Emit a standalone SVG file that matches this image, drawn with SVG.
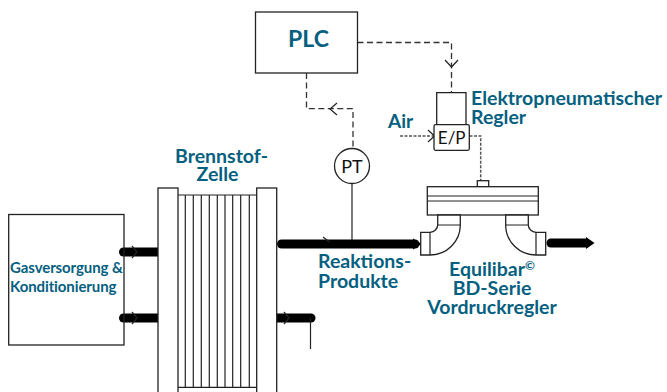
<svg xmlns="http://www.w3.org/2000/svg" width="667" height="392" viewBox="0 0 667 392">
<style>
.s{fill:#fff;stroke:#222;stroke-width:1.3}
.l{fill:none;stroke:#222;stroke-width:1.2}
.d{fill:none;stroke:#333;stroke-width:1.3;stroke-dasharray:6 3.5}
.g{fill:none;stroke:#555;stroke-width:1.5;stroke-dasharray:3 1.5}
.p{fill:none;stroke:#000;stroke-width:9;stroke-linecap:round}
.t{font-family:Lato,"Open Sans",sans-serif;font-weight:700;fill:#05607f}
.k{font-family:Lato,"Open Sans",sans-serif;fill:#111;text-anchor:middle}
</style>
<g id="connectors">
<path class="d" d="M357.500 42.500H451.500V92"/>
<path class="l" d="M445 60L451.500 67L458 60"/>
<path class="d" d="M306.500 73V108.700H353V148"/>
<path class="l" d="M337 103L330 109L337 115"/>
<path class="l" d="M352 184V240"/>
<path class="g" d="M400 136H434"/>
<path class="l" d="M428 130L434.500 136L428 142"/>
<path class="g" d="M469.500 136H480.700V181"/>
<path class="p" d="M281.500 244H415"/>
<path d="M413 238.500L421.500 244L413 249.500Z" fill="#000"/>
<path class="l" d="M323 237L329.500 242"/>
<path class="p" d="M123.500 252H158.500"/>
<path class="l" d="M132 246L137 252L132 258"/>
<path class="p" d="M123.500 318H158.500"/>
<path class="l" d="M132 312L137 318L132 324"/>
<path class="p" d="M276.500 318H311"/>
<path class="l" d="M284 312L289 318L284 324"/>
<path class="l" d="M310.500 318V349"/>
<path class="p" d="M551 243H586"/>
<path d="M586 237L594.500 243L586 249Z" fill="#000"/>
</g>
<g id="plc"><rect class="s" x="255.500" y="12" width="102" height="61"/><text class="t" x="308.500" y="47" font-size="23" text-anchor="middle">PLC</text></g>
<g id="pt"><circle class="s" cx="352" cy="166" r="17.500"/><text class="k" x="352" y="172.500" font-size="18">PT</text></g>
<g id="gas"><rect class="s" x="8.700" y="214.500" width="115.300" height="130.500" fill-opacity="0"/><text class="t" font-size="15" style="letter-spacing:-.1px"><tspan x="10" y="273">Gasversorgung &amp;</tspan><tspan x="10" y="292">Konditionierung</tspan></text></g>
<g id="cell">
<rect class="s" x="158" y="188" width="20" height="215"/>
<rect class="s" x="256.700" y="188" width="20" height="215"/>
<path class="l" d="M178 195H257M178 387.300H257M185.300 195V387M193.300 195V387M201.300 195V387M209.300 195V387M217.300 195V387M225 195V387M232.700 195V387M240.700 195V387M249.300 195V387"/>
<text class="t" font-size="19.500" text-anchor="middle"><tspan x="221.500" y="163">Brennstof-</tspan><tspan x="217.500" y="181">Zelle</tspan></text>
</g>
<g id="ep">
<path class="s" d="M436.700 124V92.700H466V124"/>
<rect class="s" x="434" y="124.700" width="35.300" height="25.600" rx="1.500"/>
<text class="k" x="451.700" y="143.500" font-size="17">E/P</text>
<text class="t" font-size="19.500"><tspan x="471" y="105">Elektropneumatischer</tspan><tspan x="471" y="124">Regler</tspan></text>
<text class="t" x="388" y="127.500" font-size="19">Air</text>
</g>
<g id="valve">
<rect class="s" x="477.300" y="180.700" width="11.400" height="6"/>
<rect class="s" x="427.300" y="186.700" width="111" height="28.300"/>
<path class="l" d="M427.300 196H538.300M427.300 201H538.300"/>
<path class="s" d="M437.700 215V225A8 7.300 0 0 1 430 232.300H420.700V255H430A30.300 30 0 0 0 460.300 225V215Z"/>
<path class="l" d="M437.700 225H460.300M430 232.300V255"/>
<path class="s" d="M528.300 215V225A8 7.300 0 0 0 536 232.300H545.700V255H536A30.300 30 0 0 1 505.700 225V215Z"/>
<path class="l" d="M505.700 225H528.300M536 232.300V255"/>
<text class="t" font-size="19.500" text-anchor="middle"><tspan x="492" y="276">Equilibar<tspan font-size="12" dy="-6">©</tspan></tspan><tspan x="492" y="295">BD-Serie</tspan><tspan x="492" y="314">Vordruckregler</tspan></text>
</g>
<text id="products" class="t" font-size="19.500"><tspan x="318" y="268">Reaktions-</tspan><tspan x="318" y="288">Produkte</tspan></text>
</svg>
